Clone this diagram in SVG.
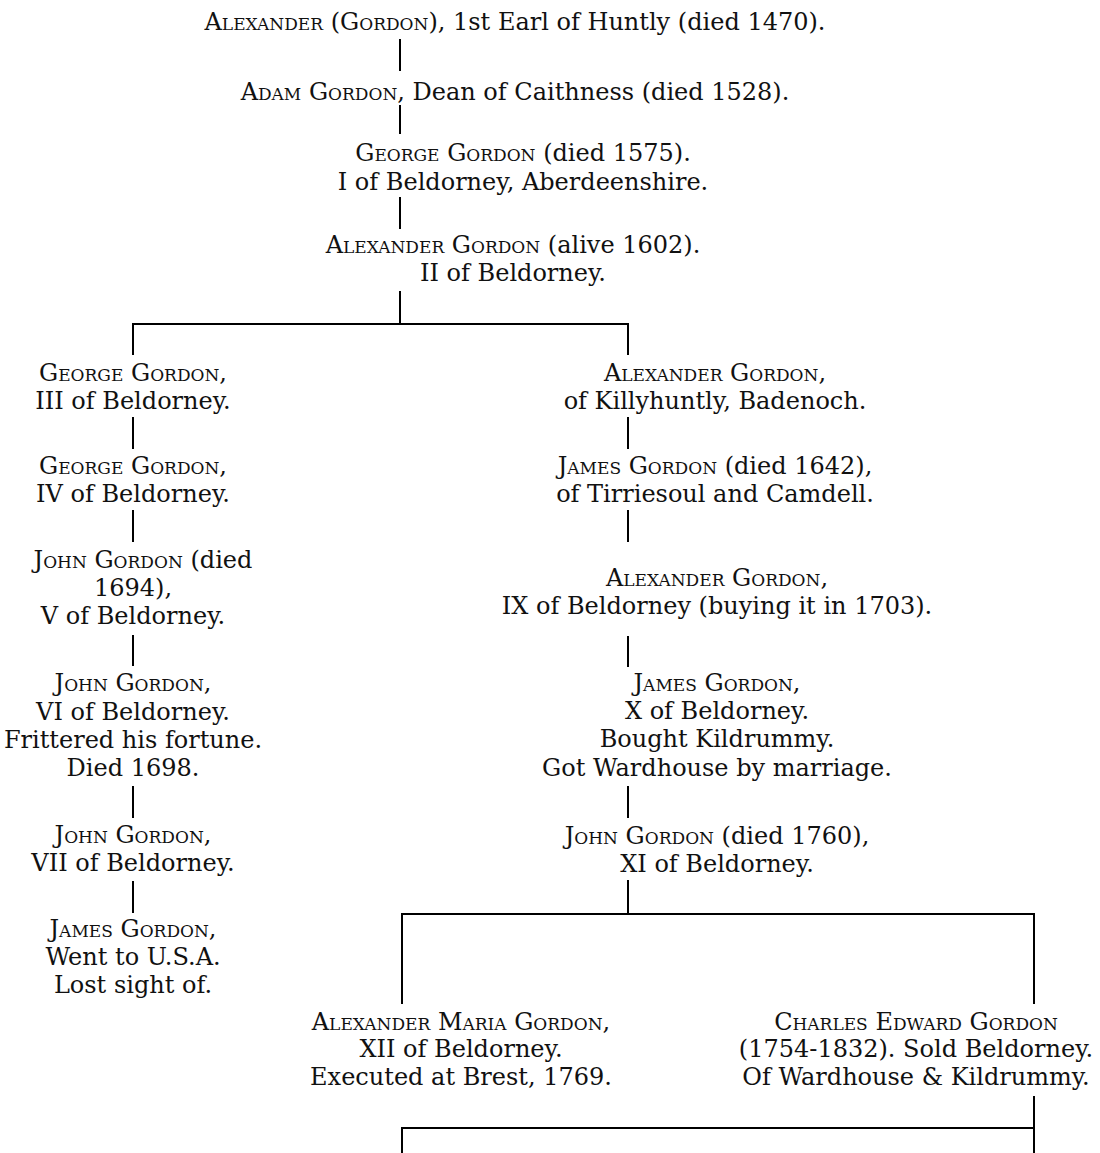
<svg xmlns="http://www.w3.org/2000/svg" width="1100" height="1153" viewBox="0 0 1100 1153">
<style>
text{font-family:"DejaVu Serif","Liberation Serif",serif;font-size:24px;fill:#111;text-anchor:middle}
.sc{font-variant:small-caps}
.c{fill:none;stroke:#000;stroke-width:2}
</style>
<rect width="1100" height="1153" fill="#fff"/>
<g id="connectors">
<path class="c" d="M400 39V71M400 105V134M400 197V229M400 291V324"/>
<path class="c" d="M133 355V324H628V355"/>
<path class="c" d="M133 417V449M133 510V542M133 635V666M133 786V818M133 881V913"/>
<path class="c" d="M628 417V449M628 510V542M628 636V667M628 786V818M628 880V914"/>
<path class="c" d="M402 1004V914H1034V1004"/>
<path class="c" d="M1034 1096V1153M402 1153V1128H1034"/>
</g>
<g id="n1"><text x="515" y="30"><tspan class="sc">Alexander (Gordon)</tspan>, 1st Earl of Huntly (died 1470).</text></g>
<g id="n2"><text x="515" y="100"><tspan class="sc">Adam Gordon</tspan>, Dean of Caithness (died 1528).</text></g>
<g id="n3"><text x="523" y="161"><tspan class="sc">George Gordon</tspan> (died 1575).</text><text x="523" y="190">I of Beldorney, Aberdeenshire.</text></g>
<g id="n4"><text x="513" y="253"><tspan class="sc">Alexander Gordon</tspan> (alive 1602).</text><text x="513" y="281">II of Beldorney.</text></g>
<g id="l1"><text x="133" y="381"><tspan class="sc">George Gordon</tspan>,</text><text x="133" y="409">III of Beldorney.</text></g>
<g id="l2"><text x="133" y="474"><tspan class="sc">George Gordon</tspan>,</text><text x="133" y="502">IV of Beldorney.</text></g>
<g id="l3"><text x="143" y="568"><tspan class="sc">John Gordon</tspan> (died</text><text x="133" y="596">1694),</text><text x="133" y="624">V of Beldorney.</text></g>
<g id="l4"><text x="133" y="691"><tspan class="sc">John Gordon</tspan>,</text><text x="133" y="720">VI of Beldorney.</text><text x="133" y="748">Frittered his fortune.</text><text x="133" y="776">Died 1698.</text></g>
<g id="l5"><text x="133" y="843"><tspan class="sc">John Gordon</tspan>,</text><text x="133" y="871">VII of Beldorney.</text></g>
<g id="l6"><text x="133" y="937"><tspan class="sc">James Gordon</tspan>,</text><text x="133" y="965">Went to U.S.A.</text><text x="133" y="993">Lost sight of.</text></g>
<g id="r1"><text x="715" y="381"><tspan class="sc">Alexander Gordon</tspan>,</text><text x="715" y="409">of Killyhuntly, Badenoch.</text></g>
<g id="r2"><text x="715" y="474"><tspan class="sc">James Gordon</tspan> (died 1642),</text><text x="715" y="502">of Tirriesoul and Camdell.</text></g>
<g id="r3"><text x="717" y="586"><tspan class="sc">Alexander Gordon</tspan>,</text><text x="717" y="614">IX of Beldorney (buying it in 1703).</text></g>
<g id="r4"><text x="717" y="691"><tspan class="sc">James Gordon</tspan>,</text><text x="717" y="719">X of Beldorney.</text><text x="717" y="747">Bought Kildrummy.</text><text x="717" y="776">Got Wardhouse by marriage.</text></g>
<g id="r5"><text x="717" y="844"><tspan class="sc">John Gordon</tspan> (died 1760),</text><text x="717" y="872">XI of Beldorney.</text></g>
<g id="b1"><text x="461" y="1030"><tspan class="sc">Alexander Maria Gordon</tspan>,</text><text x="461" y="1057">XII of Beldorney.</text><text x="461" y="1085">Executed at Brest, 1769.</text></g>
<g id="b2"><text x="916" y="1030"><tspan class="sc">Charles Edward Gordon</tspan></text><text x="916" y="1057">(1754-1832). Sold Beldorney.</text><text x="916" y="1085">Of Wardhouse &amp; Kildrummy.</text></g>
</svg>
